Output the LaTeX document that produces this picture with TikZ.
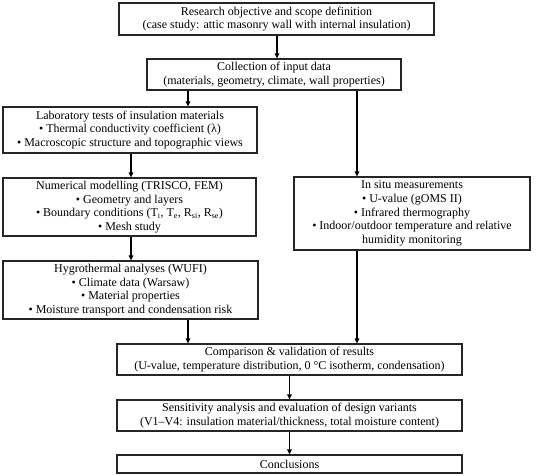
\documentclass[tikz,border=0pt]{standalone}
\usepackage{fontspec}
\setmainfont{Liberation Serif}
\usetikzlibrary{arrows.meta}
\begin{document}
\begin{tikzpicture}[x=1pt,y=1pt,
  box/.style={draw=black!85, line width=1.1pt, fill=white, align=center, inner sep=1pt,
    font=\fontsize{12}{13.6}\selectfont},
  arr/.style={draw=black, line width=1.2pt, -{Triangle[length=5pt,width=4.5pt]}},
  ln/.style={draw=black, line width=1.2pt}]
\useasboundingbox (0,0) rectangle (550,-476);
\node[box, minimum width=315pt, minimum height=32pt] (b1) at (276.5,-19)
  {Research objective and scope definition\\(case study: attic masonry wall with internal insulation)};
\node[box, minimum width=254pt, minimum height=31pt] (b2) at (274,-74.5)
  {Collection of input data\\(materials, geometry, climate, wall properties)};
\node[box, minimum width=254pt, minimum height=46pt] (lab) at (130,-130)
  {Laboratory tests of insulation materials\\• Thermal conductivity coefficient (λ)\\• Macroscopic structure and topographic views};
\node[box, minimum width=253pt, minimum height=58pt] (num) at (129.5,-207)
  {Numerical modelling (TRISCO, FEM)\\• Geometry and layers\\• Boundary conditions (T\textsubscript{i}, T\textsubscript{e}, R\textsubscript{si}, R\textsubscript{se})\\• Mesh study};
\node[box, minimum width=255pt, minimum height=58pt] (hyg) at (130.5,-290)
  {Hygrothermal analyses (WUFI)\\• Climate data (Warsaw)\\• Material properties\\• Moisture transport and condensation risk};
\node[box, minimum width=236pt, minimum height=73pt] (ins) at (412,-213.5)
  {In situ measurements\\• U-value (gOMS II)\\• Infrared thermography\\• Indoor/outdoor temperature and relative\\humidity monitoring};
\node[box, minimum width=345pt, minimum height=31pt] (cmp) at (289.5,-359.5)
  {Comparison \& validation of results\\(U-value, temperature distribution, 0 °C isotherm, condensation)};
\node[box, minimum width=345pt, minimum height=31pt] (sen) at (289.5,-415.5)
  {Sensitivity analysis and evaluation of design variants\\(V1–V4: insulation material/thickness, total moisture content)};
\node[box, minimum width=345pt, minimum height=18pt] (con) at (289.5,-464)
  {Conclusions};
\coordinate (xa) at (277,0);
\coordinate (xb) at (188,0);
\coordinate (xc) at (357,0);
\coordinate (xd) at (131,0);
\coordinate (xe) at (289.5,0);
\draw[arr] (b1.south -| xa) -- (b2.north -| xa);
\draw[arr] (b2.south -| xb) -- (lab.north -| xb);
\draw[arr] (b2.south -| xc) -- (ins.north -| xc);
\draw[arr] (lab.south -| xd) -- (num.north -| xd);
\draw[arr] (num.south -| xd) -- (hyg.north -| xd);
\draw[arr] (hyg.south -| xb) -- (cmp.north -| xb);
\draw[arr] (ins.south -| xc) -- (cmp.north -| xc);
\draw[arr] (cmp.south -| xe) -- (sen.north -| xe);
\draw[arr] (sen.south -| xe) -- (con.north -| xe);
\end{tikzpicture}
\end{document}
